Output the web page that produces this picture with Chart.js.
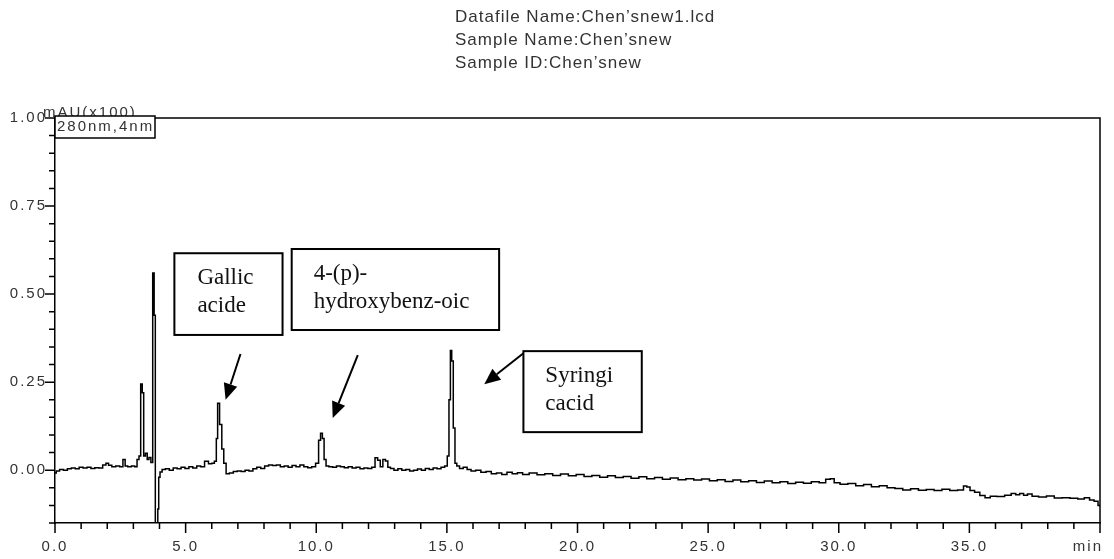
<!DOCTYPE html>
<html>
<head>
<meta charset="utf-8">
<script src="https://cdn.jsdelivr.net/npm/chart.js@4.4.1/dist/chart.umd.min.js"></script>
<style>
  html, body { margin: 0; padding: 0; background: #fff; }
  #wrap { width: 1114px; height: 559px; position: relative; }
</style>
</head>
<body>
<div id="wrap"><canvas id="c"></canvas></div>
<script>
// ---- data ----
const times = [
  0.00,0.10,0.25,0.40,0.55,0.70,0.85,1.00,1.15,1.30,1.45,1.60,1.75,1.90,2.00,2.10,2.25,2.40,2.55,2.65,
  2.72,2.85,3.00,3.10,3.18,3.25,3.31,3.37,3.42,3.50,3.56,3.63,3.71,3.77,3.82,3.86,3.92,3.95,3.99,4.05,
  4.15,4.30,4.45,4.60,4.75,4.90,5.05,5.20,5.35,5.50,5.65,5.80,5.95,6.05,6.15,6.20,6.25,6.35,6.42,6.50,
  6.60,6.75,6.90,7.05,7.20,7.35,7.50,7.65,7.80,7.95,8.10,8.25,8.40,8.55,8.70,8.85,9.00,9.15,9.30,9.45,
  9.60,9.75,9.90,10.05,10.13,10.20,10.27,10.33,10.42,10.55,10.70,10.85,11.00,11.15,11.30,11.45,11.60,11.75,11.90,12.05,
  12.20,12.30,12.40,12.50,12.60,12.70,12.78,12.90,13.05,13.20,13.35,13.50,13.65,13.80,13.95,14.10,14.25,14.40,14.55,14.70,
  14.85,14.98,15.05,15.11,15.16,15.21,15.28,15.34,15.42,15.55,15.70,15.85,16.00,16.20,16.40,16.60,16.80,17.00,17.20,17.40,
  17.60,17.80,18.00,18.30,18.60,18.90,19.20,19.50,19.80,20.10,20.40,20.70,21.00,21.30,21.60,21.90,22.20,22.50,22.80,23.10,
  23.40,23.70,24.00,24.30,24.60,24.90,25.20,25.50,25.80,26.10,26.40,26.70,27.00,27.30,27.60,27.90,28.20,28.50,28.80,29.10,
  29.40,29.60,29.75,29.90,30.20,30.50,30.80,31.10,31.40,31.70,32.00,32.30,32.60,32.90,33.20,33.50,33.80,34.10,34.40,34.70,
  34.85,34.95,35.10,35.30,35.50,35.70,35.90,36.20,36.50,36.70,36.85,37.00,37.15,37.30,37.50,37.80,38.10,38.40,38.70,39.00,
  39.30,39.50,39.70,39.85,40.00
];
const absorbance = [
  -0.008,-0.002,0.002,0.000,0.004,0.006,0.004,0.008,0.006,0.008,0.005,0.007,0.006,0.015,0.020,0.014,0.010,0.012,0.010,0.030,
  0.012,0.010,0.012,0.010,0.030,0.040,0.245,0.220,0.040,0.048,0.030,0.036,0.022,0.560,0.440,-0.200,-0.200,-0.110,-0.020,-0.005,
  0.002,0.004,0.000,0.006,0.004,0.008,0.005,0.010,0.006,0.012,0.010,0.025,0.018,0.020,0.025,0.090,0.190,0.130,0.060,0.020,
  -0.010,-0.008,-0.004,-0.002,-0.004,0.000,-0.002,0.004,0.008,0.005,0.012,0.015,0.013,0.015,0.010,0.012,0.008,0.013,0.010,0.015,
  0.010,0.007,0.010,0.020,0.085,0.105,0.090,0.030,0.012,0.010,0.008,0.012,0.010,0.007,0.010,0.006,0.008,0.004,0.006,0.005,
  0.008,0.035,0.028,0.010,0.030,0.026,0.008,0.005,0.000,0.004,0.000,0.002,-0.002,0.000,0.003,0.000,0.005,0.002,0.006,0.004,
  0.008,0.012,0.040,0.200,0.340,0.310,0.120,0.020,0.012,0.005,0.008,0.002,-0.002,0.000,-0.006,-0.004,-0.010,-0.008,-0.012,-0.006,
  -0.010,-0.007,-0.012,-0.008,-0.013,-0.010,-0.015,-0.011,-0.016,-0.012,-0.018,-0.015,-0.020,-0.016,-0.021,-0.018,-0.023,-0.019,-0.024,-0.021,
  -0.026,-0.022,-0.027,-0.024,-0.028,-0.025,-0.030,-0.027,-0.032,-0.028,-0.033,-0.030,-0.035,-0.031,-0.036,-0.033,-0.038,-0.034,-0.037,-0.033,
  -0.036,-0.026,-0.024,-0.036,-0.040,-0.038,-0.044,-0.041,-0.047,-0.044,-0.050,-0.052,-0.056,-0.053,-0.057,-0.055,-0.058,-0.054,-0.058,-0.056,
  -0.045,-0.048,-0.058,-0.063,-0.072,-0.078,-0.074,-0.075,-0.071,-0.066,-0.070,-0.066,-0.071,-0.068,-0.074,-0.076,-0.073,-0.079,-0.078,-0.080,
  -0.082,-0.078,-0.085,-0.088,-0.100
];
const xTickValues = [0, 5, 10, 15, 20, 25, 30, 35, 40];
const xTickLabels = ['0.0', '5.0', '10.0', '15.0', '20.0', '25.0', '30.0', '35.0', 'min'];
const yTickValues = [0, 0.25, 0.5, 0.75, 1.0];
const yTickLabels = ['0.00', '0.25', '0.50', '0.75', '1.00'];
const titleLines = ['Datafile Name:Chen\u2019snew1.lcd', 'Sample Name:Chen\u2019snew', 'Sample ID:Chen\u2019snew'];
const yUnitLabel = 'mAU(x100)';
const channelLabel = '280nm,4nm';

// annotations: box in data coordinates, arrow from/to in data coordinates
const annotations = [
  { lines: ['Gallic', 'acide'], box: [4.57, 0.616, 8.71, 0.384], textX: 5.45, arrow: [7.10, 0.330, 6.53, 0.200] },
  { lines: ['4-(p)-', 'hydroxybenz-oic'], box: [9.06, 0.628, 17.0, 0.398], textX: 9.90, arrow: [11.59, 0.327, 10.63, 0.148] },
  { lines: ['Syringi', 'cacid'], box: [17.93, 0.338, 22.46, 0.108], textX: 18.77, arrow: [17.93, 0.332, 16.43, 0.244] }
];

const X_MIN = 0, X_MAX = 40, X_MINOR = 1;
const Y_MIN = -0.15, Y_MAX = 1.0, Y_MINOR = 0.05;
const LAST_X = xTickLabels.length - 1;

// ---- plugin: frame, ticks, labels, annotations ----
const decor = {
  id: 'decor',
  beforeDraw(chart) {
    chart.ctx.letterSpacing = '2px';
  },
  afterDraw(chart) {
    const ctx = chart.ctx;
    const xs = chart.scales.x, ys = chart.scales.y;
    const a = chart.chartArea;
    ctx.save();
    ctx.strokeStyle = '#000';
    ctx.lineWidth = 1.5;
    // frame top & right
    ctx.beginPath();
    ctx.moveTo(a.left, a.top);
    ctx.lineTo(a.right, a.top);
    ctx.lineTo(a.right, a.bottom);
    ctx.stroke();
    // x ticks
    ctx.beginPath();
    for (let i = 0; X_MIN + i * X_MINOR <= X_MAX + 1e-9; i++) {
      const v = X_MIN + i * X_MINOR;
      const px = xs.getPixelForValue(v);
      const len = (i % 5 === 0) ? 10 : 6;
      ctx.moveTo(px, a.bottom);
      ctx.lineTo(px, a.bottom + len);
    }
    // y ticks
    for (let i = 0; Y_MIN + i * Y_MINOR <= Y_MAX + 1e-9; i++) {
      const v = Y_MIN + i * Y_MINOR;
      const py = ys.getPixelForValue(v);
      const major = Math.abs(Math.round(v / 0.25) * 0.25 - v) < 1e-6;
      const len = major ? 10 : 6;
      ctx.moveTo(a.left, py);
      ctx.lineTo(a.left - len, py);
    }
    ctx.stroke();

    // unit label for last x tick ("min"), right aligned at its tick
    ctx.fillStyle = '#333';
    ctx.letterSpacing = '2px';
    ctx.font = '15px "Liberation Sans", Arial, sans-serif';
    ctx.textAlign = 'right';
    ctx.textBaseline = 'middle';
    ctx.fillText(xTickLabels[LAST_X], xs.getPixelForValue(xTickValues[LAST_X]) + 3, a.bottom + 24);

    // unit label and channel box
    ctx.textAlign = 'left';
    ctx.textBaseline = 'alphabetic';
    ctx.fillText(yUnitLabel, a.left - 12, a.top - 1);
    ctx.fillStyle = '#fff';
    ctx.fillRect(a.left, a.top - 2, 100, 22);
    ctx.strokeRect(a.left, a.top - 2, 100, 22);
    ctx.fillStyle = '#333';
    ctx.textBaseline = 'middle';
    ctx.fillText(channelLabel, a.left + 2, a.top + 9);

    // title
    ctx.letterSpacing = '1px';
    ctx.font = '17px "Liberation Sans", Arial, sans-serif';
    ctx.fillStyle = '#333';
    titleLines.forEach((t, i) => ctx.fillText(t, 455, 17 + i * 23));

    // annotations
    ctx.letterSpacing = '0px';
    ctx.font = '23px "Liberation Serif", "Times New Roman", serif';
    annotations.forEach(an => {
      const x0 = xs.getPixelForValue(an.box[0]), y0 = ys.getPixelForValue(an.box[1]);
      const x1 = xs.getPixelForValue(an.box[2]), y1 = ys.getPixelForValue(an.box[3]);
      ctx.fillStyle = '#fff';
      ctx.fillRect(x0, y0, x1 - x0, y1 - y0);
      ctx.lineWidth = 2;
      ctx.strokeStyle = '#000';
      ctx.strokeRect(x0, y0, x1 - x0, y1 - y0);
      ctx.fillStyle = '#111';
      ctx.textBaseline = 'middle';
      const tx = xs.getPixelForValue(an.textX);
      const midY = (y0 + y1) / 2;
      const lh = 28;
      an.lines.forEach((l, i) => ctx.fillText(l, tx, midY + (i - (an.lines.length - 1) / 2) * lh - 2));
      // arrow
      const ax0 = xs.getPixelForValue(an.arrow[0]), ay0 = ys.getPixelForValue(an.arrow[1]);
      const ax1 = xs.getPixelForValue(an.arrow[2]), ay1 = ys.getPixelForValue(an.arrow[3]);
      const ang = Math.atan2(ay1 - ay0, ax1 - ax0);
      const hl = 16, hw = 7;
      const bx = ax1 - hl * Math.cos(ang), by = ay1 - hl * Math.sin(ang);
      ctx.lineWidth = 2;
      ctx.beginPath();
      ctx.moveTo(ax0, ay0);
      ctx.lineTo(bx, by);
      ctx.stroke();
      ctx.fillStyle = '#000';
      ctx.beginPath();
      ctx.moveTo(ax1, ay1);
      ctx.lineTo(bx + hw * Math.sin(ang), by - hw * Math.cos(ang));
      ctx.lineTo(bx - hw * Math.sin(ang), by + hw * Math.cos(ang));
      ctx.closePath();
      ctx.fill();
    });
    ctx.restore();
  }
};

const tickFont = { family: '"Liberation Sans", Arial, sans-serif', size: 15 };

new Chart(document.getElementById('c'), {
  type: 'line',
  data: {
    datasets: [{
      data: times.map((t, i) => ({ x: t, y: absorbance[i] })),
      borderColor: '#000',
      borderWidth: 1.5,
      pointRadius: 0,
      stepped: 'middle',
      fill: false
    }]
  },
  options: {
    responsive: true,
    maintainAspectRatio: false,
    animation: false,
    events: [],
    layout: { padding: { top: 118, right: 14, left: 0, bottom: 0 } },
    plugins: { legend: { display: false }, tooltip: { enabled: false }, title: { display: false } },
    scales: {
      x: {
        type: 'linear',
        min: X_MIN, max: X_MAX,
        afterBuildTicks: s => { s.ticks = xTickValues.map(v => ({ value: v })); },
        afterFit: s => { s.height = 36; s.paddingLeft = 0; s.paddingRight = 0; },
        grid: { display: false, drawTicks: false },
        border: { display: true, color: '#000', width: 1.5 },
        ticks: {
          autoSkip: false, maxRotation: 0, padding: 15,
          color: '#333', font: tickFont,
          callback: (v, i) => (i === LAST_X ? '' : xTickLabels[i])
        }
      },
      y: {
        type: 'linear',
        min: Y_MIN, max: Y_MAX,
        afterBuildTicks: s => { s.ticks = yTickValues.map(v => ({ value: v })); },
        afterFit: s => { s.width = 55; s.paddingTop = 0; s.paddingBottom = 0; },
        grid: { display: false, drawTicks: false },
        border: { display: true, color: '#000', width: 1.5 },
        ticks: {
          autoSkip: false, padding: 8,
          color: '#333', font: tickFont,
          callback: (v, i) => yTickLabels[i]
        }
      }
    }
  },
  plugins: [decor]
});
</script>
</body>
</html>
